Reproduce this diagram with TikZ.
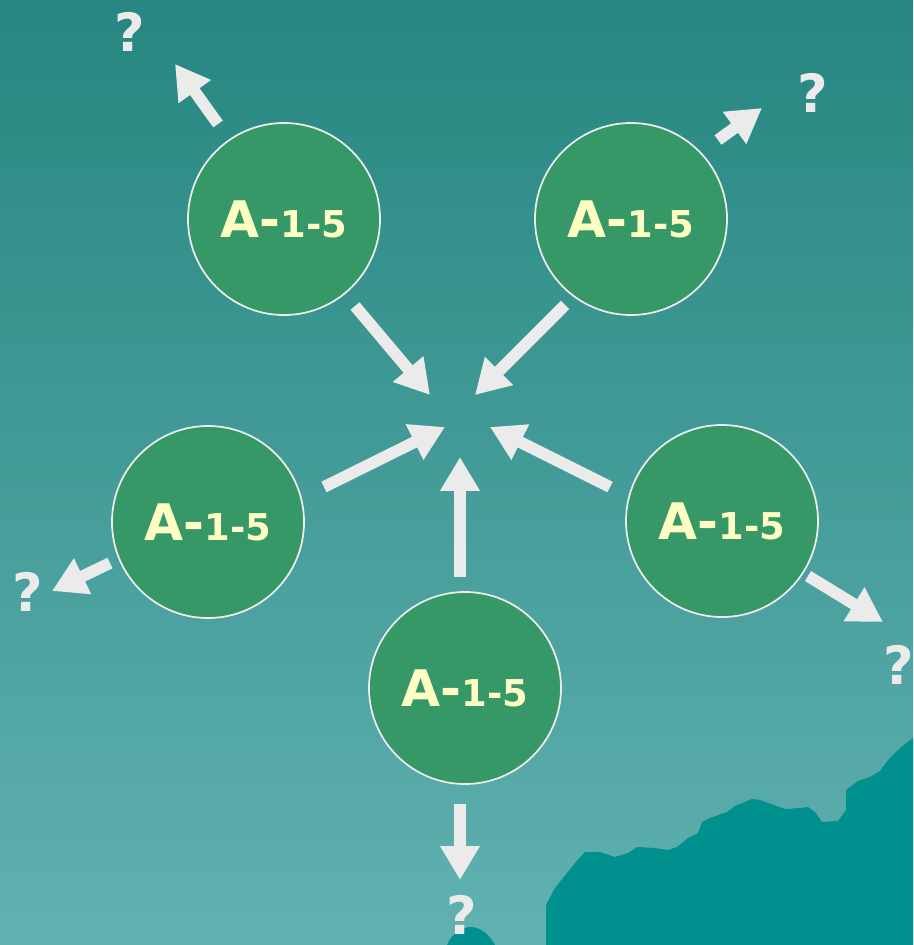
\documentclass[tikz,border=0pt]{standalone}
\usepackage{fontspec}
\setmainfont{DejaVu Sans}
\usetikzlibrary{arrows.meta}
\definecolor{bgtop}{RGB}{38,134,128}
\definecolor{bgbot}{RGB}{97,177,177}
\definecolor{ballfill}{RGB}{54,152,102}
\definecolor{txtyel}{RGB}{255,255,196}
\definecolor{arrgray}{RGB}{235,235,235}
\definecolor{mount}{RGB}{0,144,141}
\tikzset{
  ball/.style={circle, fill=ballfill, draw=arrgray, line width=1.5pt, minimum size=5.76cm, inner sep=0pt, text=txtyel, font=\bfseries},
  blockarrow/.style={draw=arrgray, line width=10pt, -{Triangle[length=29pt,width=32pt]}},
  qmark/.style={text=arrgray, font=\bfseries\fontsize{45}{50}\selectfont, inner sep=0pt}
}
\newcommand{\lbl}{{\fontsize{43}{46}\selectfont A-}{\fontsize{31.5}{34}\selectfont 1-5}}
\begin{document}
\begin{tikzpicture}[x=0.03cm, y=-0.03cm]
\useasboundingbox (0,0) rectangle (913,945);
\shade[top color=bgtop, bottom color=bgbot] (0,0) rectangle (913,945);
% mountains
\fill[mount] (546,945) -- (546,905) -- (555,888) -- (575,863) -- (585,852) -- (600,852) -- (615,857) -- (628,853) -- (637,847) -- (655,848) -- (668,850) -- (677,847) -- (688,838) -- (698,833) -- (702,822) -- (710,818) -- (727,812) -- (735,806) -- (752,799) -- (760,800) -- (785,809) -- (800,808) -- (808,807) -- (815,812) -- (822,822) -- (838,821) -- (846,810) -- (846,790) -- (858,781) -- (870,777) -- (880,771) -- (888,760) -- (900,748) -- (913,738) -- (913,945) -- cycle;
\fill[mount] (447,945) .. controls (452,933) and (462,927) .. (472,927) .. controls (482,928) and (490,936) .. (495,945) -- cycle;
% circles
\node[ball] (tl) at (284,219) {\lbl};
\node[ball] (tr) at (631,219) {\lbl};
\node[ball] (l) at (208,522) {\lbl};
\node[ball] (r) at (722,521) {\lbl};
\node[ball] (b) at (465,688) {\lbl};
% question marks
\node[qmark] (qtl) at (130,32) {?};
\node[qmark] (qtr) at (813,93) {?};
\node[qmark] (ql) at (28,592) {?};
\node[qmark] (qr) at (899,665) {?};
\node[qmark] (qb) at (462,915) {?};
% arrow ends
\coordinate (tlo1) at (218,124); \coordinate (tlo2) at (175,64);
\coordinate (tli1) at (355,306); \coordinate (tli2) at (430,395);
\coordinate (tro1) at (718,140); \coordinate (tro2) at (762,108);
\coordinate (tri1) at (565,305); \coordinate (tri2) at (475,395);
\coordinate (lo1) at (110,563); \coordinate (lo2) at (52,591);
\coordinate (li1) at (324,487); \coordinate (li2) at (445,427);
\coordinate (ri1) at (610,487); \coordinate (ri2) at (490,427);
\coordinate (ro1) at (808,576); \coordinate (ro2) at (883,622);
\coordinate (bi1) at (460,577); \coordinate (bi2) at (460,457);
\coordinate (bo1) at (460,804); \coordinate (bo2) at (460,880);
\draw[blockarrow] (tlo1) -- (tlo2);
\draw[blockarrow] (tli1) -- (tli2);
\draw[blockarrow] (tro1) -- (tro2);
\draw[blockarrow] (tri1) -- (tri2);
\draw[blockarrow] (lo1) -- (lo2);
\draw[blockarrow] (li1) -- (li2);
\draw[blockarrow] (ri1) -- (ri2);
\draw[blockarrow] (ro1) -- (ro2);
\draw[blockarrow] (bi1) -- (bi2);
\draw[blockarrow] (bo1) -- (bo2);
\end{tikzpicture}
\end{document}
